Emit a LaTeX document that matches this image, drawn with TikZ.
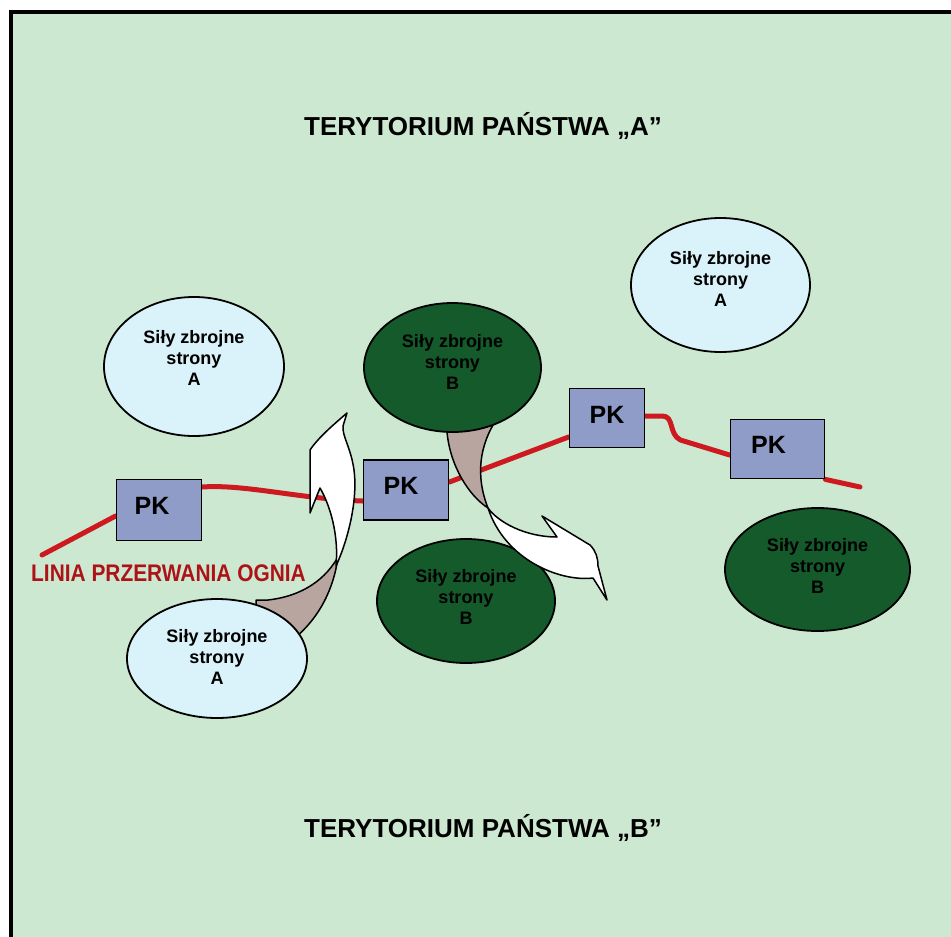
\documentclass[tikz,border=0pt]{standalone}
\usepackage{graphicx}
\usepackage{fontspec}
\setmainfont{Liberation Sans}
\usetikzlibrary{shapes.geometric,calc}

\definecolor{paper}{RGB}{205,232,208}
\definecolor{lightA}{RGB}{218,242,249}
\definecolor{darkB}{RGB}{20,90,43}
\definecolor{pkfill}{RGB}{143,156,200}
\definecolor{fireline}{RGB}{204,26,32}
\definecolor{firetext}{RGB}{172,18,22}
\definecolor{twist}{RGB}{184,165,160}

% extra depth under the last line lifts a node's text a little
\newcommand\liftby[1]{\rule[-#1]{0pt}{#1}}

\pgfdeclarelayer{back}
\pgfsetlayers{back,main}

\begin{document}
\begin{tikzpicture}[x=1pt,y=-1pt,
  forces/.style={ellipse, draw=black, line width=1.8pt, align=center,
    font=\bfseries\fontsize{18}{21}\selectfont, inner sep=0pt},
  sideA/.style={forces, fill=lightA},
  sideB/.style={forces, fill=darkB},
  pkbox/.style={rectangle, draw=black, line width=1.8pt, fill=pkfill,
    font=\bfseries\fontsize{25}{30}\selectfont, inner sep=0pt},
  territory/.style={font=\bfseries\fontsize{26}{30}\selectfont, inner sep=0pt, anchor=base},
  redline/.style={draw=fireline, line width=5pt, line cap=round, line join=round},
  ribbon/.style={draw=black, line width=1.5pt, line join=round},
]
\useasboundingbox (0,0) rectangle (951,937);

% ---- page and frame ----
\begin{pgfonlayer}{back}
  \fill[white] (0,0) rectangle (951,937);
  \fill[paper] (10.5,11.5) rectangle (951,937);
  \draw[line width=4pt] (10.5,937) -- (10.5,11.5) -- (951,11.5);
\end{pgfonlayer}

% ---- titles ----
\node[territory] (terA) at (483,135) {TERYTORIUM PAŃSTWA „A”};
\node[territory] (terB) at (483,837) {TERYTORIUM PAŃSTWA „B”};

% ---- checkpoints ----
\node[pkbox, minimum width=85pt, minimum height=61pt] (pk1) at (159,510) {PK\liftby{8pt}\kern14pt};
\node[pkbox, minimum width=85pt, minimum height=60pt] (pk2) at (406,490) {PK\liftby{8pt}\kern10pt};
\node[pkbox, minimum width=75pt, minimum height=59pt] (pk3) at (607,418) {PK\liftby{6pt}};
\node[pkbox, minimum width=94pt, minimum height=59pt] (pk4) at (777.5,449) {PK\liftby{8pt}\kern18pt};

% ---- cease-fire line ----
\coordinate (lineW) at (42,555);
\coordinate (lineE) at (860,487);
\begin{pgfonlayer}{back}
  \draw[redline] (lineW) -- ($(pk1.west)+(0,6)$);
  \draw[redline] ($(pk1.east)+(0,-23)$) .. controls (245,484) and (300,499) .. ($(pk2.west)+(0,11)$);
  \draw[redline] ($(pk2.east)+(0,-8)$) -- ($(pk3.west)+(0,19)$);
  \draw[redline] ($(pk3.east)+(0,-2)$) -- ++(17,0)
     .. controls +(12,0) and +(-12,-6) .. ++(18,24) -- ($(pk4.west)+(0,6)$);
  \draw[redline] (pk4.south east) -- (lineE);
\end{pgfonlayer}
\node[anchor=west, inner sep=0pt, text=firetext, font=\bfseries\fontsize{24}{28}\selectfont]
  (ceasefire) at (31,573) {\scalebox{0.87}[1]{LINIA PRZERWANIA OGNIA}};

% ---- twisted tails of the movement arrows ----
\fill[twist] (258,610) -- (256,600) -- (268,600)
  .. controls (295,597) and (322,585) .. (338,557)
  .. controls (335,580) and (325,612) .. (296,637) -- cycle;
\draw[ribbon] (256,604) -- (256,600) -- (268,600)
  .. controls (295,597) and (322,585) .. (338,557)
  .. controls (335,580) and (325,612) .. (296,637);
\fill[twist] (445,420) -- (447,432)
  .. controls (450,465) and (468,495) .. (488,508)
  .. controls (475,475) and (480,445) .. (496,420) -- cycle;
\draw[ribbon] (447,428) -- (447,432)
  .. controls (450,465) and (468,495) .. (488,508)
  .. controls (475,475) and (480,445) .. (496,420);

% ---- armed forces ----
\node[sideA, minimum width=180pt, minimum height=139pt] (a1) at (194,366.5) {Siły zbrojne\\strony\\A\liftby{17pt}};
\node[sideA, minimum width=179pt, minimum height=134pt] (a2) at (720.5,285) {Siły zbrojne\\strony\\A\liftby{12pt}};
\node[sideA, minimum width=180pt, minimum height=119pt] (a3) at (217,658.5) {Siły zbrojne\\strony\\A\liftby{3pt}};
\node[sideB, minimum width=177pt, minimum height=129pt] (b1) at (452.5,367.5) {Siły zbrojne\\strony\\B\liftby{11pt}};
\node[sideB, minimum width=178pt, minimum height=124pt] (b2) at (466,601) {Siły zbrojne\\strony\\B\liftby{8pt}};
\node[sideB, minimum width=185pt, minimum height=123pt] (b3) at (817.5,569.5) {Siły zbrojne\\strony\\B\liftby{8pt}};

% ---- white arrow heads ----
\filldraw[ribbon, fill=white] (336,566)
  .. controls (348,540) and (358,500) .. (354,470)
  .. controls (351,448) and (342,436) .. (343,426) -- (347,413)
  .. controls (333,425) and (318,438) .. (310,450) -- (310,513) -- (320,488)
  .. controls (330,505) and (339,535) .. cycle;
\filldraw[ribbon, fill=white] (488,508)
  .. controls (498,522) and (525,537) .. (557,537) -- (542,516) -- (590,545)
  .. controls (596,551) and (598,558) .. (598,566) -- (607,600) -- (593,578)
  .. controls (560,582) and (505,560) .. cycle;
\end{tikzpicture}
\end{document}
